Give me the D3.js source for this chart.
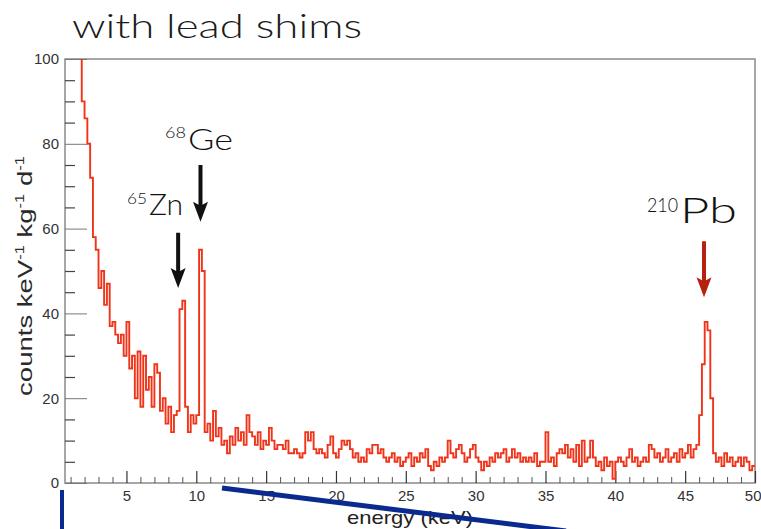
<!DOCTYPE html>
<html>
<head>
<meta charset="utf-8">
<script src="https://cdn.jsdelivr.net/npm/d3@7/dist/d3.min.js"></script>
<style>
  html, body { margin: 0; padding: 0; background: #fff; }
  svg { display: block; }
</style>
</head>
<body>
<svg id="chart" width="761" height="529"></svg>
<script>
// ---------------- DATA ----------------
const title = "with lead shims";
const xLabel = "energy (keV)";
const binStart = 1.6;      // keV, low edge of first bin
const binWidth = 0.2;      // keV
// counts keV^-1 kg^-1 d^-1 per 0.2 keV bin, starting at 1.6 keV
const counts = [
  120, 90,
  86, 80, 72, 58, 55,
  46, 50, 42, 47, 37,
  38, 35, 33, 35, 30,
  38, 27, 30, 20, 31,
  18, 30, 22, 25, 18,
  28, 26, 17, 20, 14,
  18, 12, 16, 17, 41,
  43, 18, 12, 16, 14,
  16, 55, 50, 12, 14,
  10, 17, 11, 13, 9,
  10, 7, 11, 9, 13,
  10, 12, 9, 16, 12,
  11, 9, 12, 8, 10,
  9, 13, 10, 8, 9,
  9, 8, 10, 7, 7,
  8, 7, 6, 7, 12,
  10, 12, 8, 7, 8,
  7, 6, 9, 11, 7,
  6, 8, 10, 9, 10,
  8, 6, 7, 5, 6,
  5, 8, 7, 9, 9,
  7, 8, 6, 5, 6,
  7, 5, 6, 4, 5,
  6, 7, 4, 6, 5,
  7, 6, 8, 4, 3,
  5, 4, 6, 5, 6,
  10, 7, 6, 8, 9,
  7, 5, 6, 8, 9,
  6, 5, 3, 5, 4,
  6, 5, 7, 6, 7,
  8, 5, 6, 8, 6,
  7, 5, 6, 5, 6,
  5, 7, 4, 5, 5,
  12, 5, 6, 4, 7,
  8, 7, 9, 6, 8,
  5, 9, 4, 10, 5,
  6, 10, 6, 4, 5,
  3, 6, 4, 5, 1,
  5, 6, 5, 4, 6,
  8, 5, 6, 4, 5,
  6, 5, 9, 8, 6,
  7, 5, 6, 8, 5,
  6, 7, 5, 8, 6,
  7, 9, 6, 8, 9,
  16, 28, 38, 36, 20,
  7, 5, 6, 4, 7,
  5, 6, 4, 5, 6,
  4, 6, 5, 3, 4
];
const xMajorTicks = [5, 10, 15, 20, 25, 30, 35, 40, 45, 50];
const yMajorTicks = [0, 20, 40, 60, 80, 100];
// peak annotations: isotope mass number, element, peak energy (keV)
const peakMass = ["65", "68", "210"];
const peakElem = ["Zn", "Ge", "Pb"];
const peakEnergy = [8.7, 10.3, 46.35];

// ---------------- LAYOUT ----------------
const svg = d3.select("#chart");
const L = 65, R = 755, T = 59, B = 483;
const x = d3.scaleLinear().domain([0.6, 50]).range([L, R]);
const y = d3.scaleLinear().domain([0, 100]).range([B, T]);
const tickFont = "'Liberation Sans', Arial, Helvetica, sans-serif";
const annFont = "Lato, 'Open Sans', 'DejaVu Sans', sans-serif";

// clip
svg.append("defs").append("clipPath").attr("id", "plotClip")
  .append("rect").attr("x", L).attr("y", T).attr("width", R - L).attr("height", B - T);

// frame
svg.append("rect").attr("x", L).attr("y", T).attr("width", R - L).attr("height", B - T)
  .attr("fill", "none").attr("stroke", "#8a8a8a").attr("stroke-width", 1.5);

// x axis minor (every 1 keV)
const xMinor = d3.range(1, 51).filter(v => v % 5 !== 0);
svg.append("g").attr("transform", `translate(0,${B})`)
  .call(d3.axisBottom(x).tickValues(xMinor).tickFormat("").tickSizeInner(-6).tickSizeOuter(0))
  .call(g => g.select(".domain").remove())
  .call(g => g.selectAll("line").attr("stroke", "#555").attr("stroke-width", 1));
// x axis major
svg.append("g").attr("transform", `translate(0,${B})`)
  .call(d3.axisBottom(x).tickValues(xMajorTicks).tickFormat(d3.format("d")).tickSizeInner(-12).tickSizeOuter(0).tickPadding(7))
  .call(g => g.select(".domain").remove())
  .call(g => g.selectAll("line").attr("stroke", "#333").attr("stroke-width", 1.2))
  .call(g => g.selectAll("text").attr("font-family", tickFont).attr("font-size", 15).attr("fill", "#333"))
  .call(g => g.selectAll(".tick").filter(d => d === 50).select("text").attr("text-anchor", "end").attr("dx", 6));

// y axis minor (every 5)
const yMinor = d3.range(5, 100, 5).filter(v => v % 20 !== 0);
svg.append("g").attr("transform", `translate(${L},0)`)
  .call(d3.axisLeft(y).tickValues(yMinor).tickFormat("").tickSizeInner(-10).tickSizeOuter(0))
  .call(g => g.select(".domain").remove())
  .call(g => g.selectAll("line").attr("stroke", "#444").attr("stroke-width", 1.2));
// y axis major
svg.append("g").attr("transform", `translate(${L},0)`)
  .call(d3.axisLeft(y).tickValues(yMajorTicks).tickFormat(d3.format("d")).tickSizeInner(-22).tickSizeOuter(0).tickPadding(6))
  .call(g => g.select(".domain").remove())
  .call(g => g.selectAll("line").attr("stroke", "#777").attr("stroke-width", 1))
  .call(g => g.selectAll("text").attr("font-family", tickFont).attr("font-size", 15).attr("fill", "#333"));

// histogram
const pts = counts.map((v, i) => [binStart + i * binWidth, v]);
pts.push([binStart + counts.length * binWidth, counts[counts.length - 1]]);
const line = d3.line().x(d => x(d[0])).y(d => y(d[1])).curve(d3.curveStepAfter);
svg.append("path").attr("clip-path", "url(#plotClip)")
  .attr("d", line(pts))
  .attr("fill", "none").attr("stroke", "#f0341a").attr("stroke-width", 1.9)
  .attr("stroke-linejoin", "miter");

// title
svg.append("text").attr("x", 72).attr("y", 38)
  .attr("font-family", annFont).attr("font-weight", 300).attr("font-size", 34)
  .attr("fill", "#1a1a1a").text(title)
  .attr("textLength", 290).attr("lengthAdjust", "spacingAndGlyphs");

// y label
const yl = svg.append("text").attr("text-anchor", "middle")
  .attr("font-family", tickFont).attr("font-size", 20).attr("fill", "#2a2a2a");
yl.append("tspan").text("counts keV");
yl.append("tspan").attr("dy", -8).attr("font-size", 12).text("-1");
yl.append("tspan").attr("dy", 8).text(" kg");
yl.append("tspan").attr("dy", -8).attr("font-size", 12).text("-1");
yl.append("tspan").attr("dy", 8).text(" d");
yl.append("tspan").attr("dy", -8).attr("font-size", 12).text("-1");
const ylLen = yl.node().getComputedTextLength();
yl.attr("transform", `translate(32,276) rotate(-90) scale(${240 / ylLen},1)`);

// x label
svg.append("text").attr("x", 347).attr("y", 524)
  .attr("font-family", tickFont).attr("font-size", 19).attr("fill", "#222").text(xLabel)
  .attr("textLength", 126).attr("lengthAdjust", "spacingAndGlyphs");

// annotations (arrows + labels)
const ann = [
  { massX: 127, massW: 20, elemX: 149, elemW: 34, base: 215, mSize: 16, eSize: 29, mBase: 204, tip: 46, top: 59, color: "#111" },
  { massX: 165, massW: 21, elemX: 188, elemW: 45, base: 150, mSize: 16, eSize: 30, mBase: 138, tip: 61.6, top: 75, color: "#111" },
  { massX: 647, massW: 31, elemX: 680, elemW: 57, base: 223, mSize: 19, eSize: 36, mBase: 212, tip: 43.8, top: 57, color: "#b5200f" }
];
ann.forEach((a, i) => {
  svg.append("text").attr("x", a.massX).attr("y", a.mBase)
    .attr("font-family", annFont).attr("font-weight", 300).attr("font-size", a.mSize)
    .attr("fill", "#111").text(peakMass[i])
    .attr("textLength", a.massW).attr("lengthAdjust", "spacingAndGlyphs");
  svg.append("text").attr("x", a.elemX).attr("y", a.base)
    .attr("font-family", annFont).attr("font-weight", 300).attr("font-size", a.eSize)
    .attr("fill", "#111").text(peakElem[i])
    .attr("textLength", a.elemW).attr("lengthAdjust", "spacingAndGlyphs");
  const cx = x(peakEnergy[i]);
  const yt = y(a.top), yb = y(a.tip);
  const hw = 7.5, hh = 17, sw = 2;
  const p = d3.path();
  p.moveTo(cx - sw, yt); p.lineTo(cx + sw, yt); p.lineTo(cx + sw, yb - hh);
  p.lineTo(cx + hw, yb - hh - 3); p.lineTo(cx, yb); p.lineTo(cx - hw, yb - hh - 3);
  p.lineTo(cx - sw, yb - hh); p.closePath();
  svg.append("path").attr("d", p.toString()).attr("fill", a.color);
});

// navy overlay strokes at the bottom
svg.append("line").attr("x1", 62).attr("y1", 490).attr("x2", 62).attr("y2", 529)
  .attr("stroke", "#0b2a8e").attr("stroke-width", 4);
svg.append("line").attr("x1", 222).attr("y1", 488).attr("x2", 566).attr("y2", 531)
  .attr("stroke", "#0b2a8e").attr("stroke-width", 5);
</script>
</body>
</html>
